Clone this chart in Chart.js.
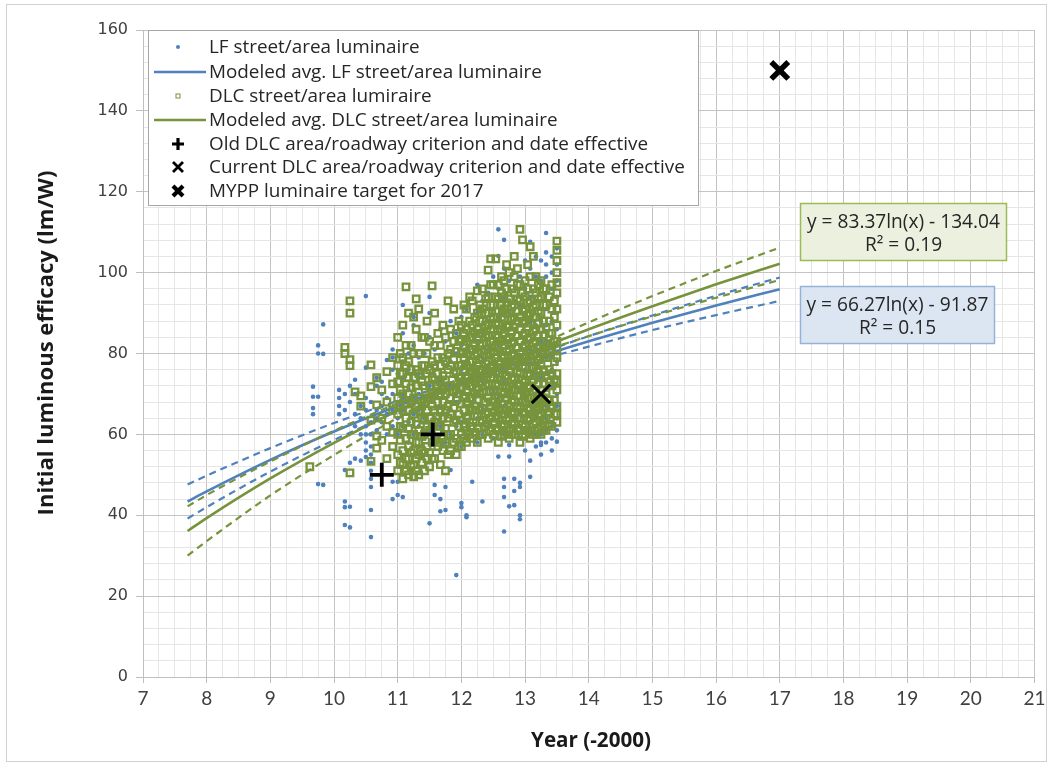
<!DOCTYPE html>
<html>
<head>
<meta charset="utf-8">
<script src="https://cdn.jsdelivr.net/npm/chart.js@4.4.1/dist/chart.umd.min.js"></script>
<style>
  html, body { margin: 0; padding: 0; background: #fff; }
  #wrap { position: relative; width: 1052px; height: 767px; }
</style>
</head>
<body>
<div id="wrap"><canvas id="chart" width="1052" height="767"></canvas></div>
<script>
// --- Data ---

// modeled averages (trend lines) and their dashed bounds
const fitYears = [7.7, 8, 9, 10, 11, 12, 13, 14, 15, 16, 17];
const lfModel  = [43.4, 45.9, 53.7, 60.7, 67.0, 72.8, 78.1, 83.0, 87.6, 91.9, 95.9];
const lfUpper  = [47.6, 49.8, 56.6, 62.8, 68.3, 73.4, 78.8, 84.3, 89.4, 94.3, 98.8];
const lfLower  = [39.2, 42.0, 50.8, 58.6, 65.7, 72.2, 77.4, 81.7, 85.8, 89.5, 93.0];
const dlcModel = [36.1, 39.3, 49.1, 57.9, 65.9, 73.1, 79.8, 86.0, 91.7, 97.1, 102.2];
const dlcUpper = [42.2, 45.0, 53.3, 60.9, 67.7, 73.9, 80.6, 87.7, 94.2, 100.4, 106.2];
const dlcLower = [30.0, 33.6, 44.9, 54.9, 64.1, 72.3, 79.0, 84.3, 89.2, 93.8, 98.2];

// LF street/area luminaires: month positions and efficacy values in each month
const lfMonths = [9.67, 9.75, 9.83, 10.08, 10.17, 10.25, 10.33, 10.42, 10.50, 10.58, 10.67, 10.75, 10.83, 10.92,
  11.00, 11.08, 11.17, 11.25, 11.33, 11.42, 11.50, 11.58, 11.67, 11.75, 11.83, 11.92,
  12.00, 12.08, 12.17, 12.25, 12.33, 12.42, 12.50, 12.58, 12.67, 12.75, 12.83, 12.92,
  13.00, 13.08, 13.17, 13.25, 13.33, 13.42, 13.50];
const lfValues = [
  [71.8, 69.3, 66.5, 65], [82, 80, 69.3, 47.7], [87.2, 79.9, 47.5], [65, 67, 69, 71],
  [51.2, 43.4, 37.6, 66, 70, 42], [37, 42.1, 53, 68, 72], [70, 73.5, 54, 62, 65], [53.5, 60, 64, 67],
  [69, 76.5, 94.2, 56, 58, 60, 54.4, 62, 66], [47, 49, 51, 53, 55, 57, 60, 41.3, 34.6, 63, 68],
  [72, 74, 61, 64, 66], [63, 67, 70, 73], [78.4, 60, 65, 69], [76, 79, 81, 48.3, 44, 62, 66, 70],
  [48.3, 45, 60, 64, 68, 72, 75], [92, 85, 44.5, 62, 66, 70, 74, 78], [58, 63, 67, 71, 76, 80],
  [87, 89, 60, 65, 69, 73, 82], [57, 62, 66, 70, 75, 79], [59, 64, 68, 74, 80],
  [90, 94, 38, 61, 68, 72, 77, 84], [45, 47.5, 59, 64, 70, 76, 81], [41, 44, 62, 67, 73, 79, 86],
  [41.3, 47, 58, 65, 71, 77, 83], [51.2, 60, 66, 72, 78, 88], [25.2, 62, 68, 74, 80, 85],
  [42, 43, 57, 63, 70, 76, 82, 89], [39.5, 40, 59, 65, 72, 78, 84, 91], [48.3, 61, 67, 73, 80, 86],
  [58, 64, 70, 76, 83, 90, 97], [43.4, 60, 66, 73, 79, 85, 93], [62, 68, 75, 81, 88, 95],
  [59, 65, 71, 78, 84, 91, 99], [104.1, 110.7, 54.5, 63, 69, 76, 82, 89, 96],
  [108.1, 44.5, 47, 49, 36, 60, 67, 73, 80, 87, 94, 101], [54.5, 57.4, 42.2, 62, 68, 75, 83, 90, 98],
  [46, 49, 42.5, 61, 66, 72, 79, 86, 93, 100], [47, 48, 39, 40, 59, 65, 71, 78, 85, 92, 99],
  [56, 63, 70, 76, 83, 89, 96, 103], [49.5, 53.5, 107.6, 61, 68, 74, 81, 88, 94, 101],
  [57, 60, 64, 69, 75, 81, 87, 93, 99, 104], [55, 57.4, 58, 60, 63, 66, 70, 74, 78, 83, 88, 93, 98, 103],
  [109.8, 58, 61, 64, 67, 71, 75, 79, 83, 87, 91, 95, 99, 102, 105],
  [56, 59, 62, 65, 68, 72, 76, 80, 84, 88, 92, 96, 100, 104],
  [58.2, 61, 64, 67, 70, 74, 78, 82, 86, 90, 94, 98, 102, 106]
];

// DLC street/area luminaires (half-month positions in the dense part)
const dlcMonths = [9.62, 10.17, 10.25, 10.33, 10.42, 10.58, 10.67, 10.75, 10.83, 10.92,
  11.00, 11.04, 11.08, 11.13, 11.17, 11.21, 11.25, 11.29, 11.33, 11.38, 11.42, 11.46,
  11.50, 11.54, 11.58, 11.63, 11.67, 11.71, 11.75, 11.79, 11.83, 11.88, 11.92, 11.96,
  12.00, 12.04, 12.08, 12.13, 12.17, 12.21, 12.25, 12.29, 12.33, 12.38, 12.42, 12.46,
  12.50, 12.54, 12.58, 12.63, 12.67, 12.71, 12.75, 12.79, 12.83, 12.88, 12.92, 12.96,
  13.00, 13.04, 13.08, 13.13, 13.17, 13.21, 13.25, 13.29, 13.33, 13.38, 13.42, 13.46, 13.50];
const dlcValues = [
  [52], [80, 81.5], [90, 93, 77, 78.5, 50.5], [70.5], [67, 69.5], [71.8, 53.3, 77.2, 63.5],
  [67.3, 59.6, 56.6, 74], [64, 71, 58.5], [62, 75.5, 68, 54], [57, 66, 72.5, 79, 60.5],
  [51, 55, 60, 65, 69, 73, 77, 84], [53, 58.5, 62, 67, 71, 75, 80],
  [49, 52.5, 56, 61.5, 66, 70, 75, 79, 87], [51, 54, 59, 64, 67.5, 72.5, 77, 82, 96.5],
  [50, 54, 57, 61.5, 66, 70, 74, 78, 90], [52, 55.5, 60, 63, 68, 71.5, 76, 82],
  [49.5, 52.5, 56, 60, 65, 69, 74, 80, 89], [51, 54, 58, 62.5, 67, 72, 76, 86, 93.5],
  [50, 55, 58, 61, 66, 70.5, 75, 80, 91], [53, 56, 59.5, 64, 67, 73, 77, 84],
  [51, 55.5, 60, 63.5, 68, 72, 77, 84], [54, 57, 62, 66, 69, 75, 80, 88],
  [52, 55.5, 61, 64, 69, 72, 76, 83], [54, 58, 62.5, 67, 70, 74, 78, 96.7],
  [54, 59, 63, 66, 69.5, 73.5, 77, 82, 90], [57, 60.5, 64.5, 68, 72, 75, 79, 85],
  [52.5, 58, 62, 65.5, 70, 73, 77, 82], [56, 59, 64, 68, 71, 74.5, 79, 87],
  [51, 58, 61.5, 66, 70, 73.5, 78, 84], [55, 60, 64, 67, 72, 76, 80, 93],
  [56, 60, 65, 69, 72, 77, 81, 86], [58, 63, 66.5, 70.5, 75, 78.5, 83, 91],
  [55, 59, 63.5, 68.5, 71, 75.5, 80.5, 85], [57, 62, 65, 70, 74, 77, 83, 88],
  [57, 60, 63.5, 67.5, 71.5, 74, 77, 80, 83.5, 87], [59, 62, 66, 69, 73, 76, 79, 82, 85, 92],
  [58, 61, 64, 68, 71, 74, 77, 80, 83, 86, 91], [60, 63, 66.5, 69, 72, 75.5, 78, 81, 84, 88, 94],
  [59, 62, 66, 69, 72, 75, 78, 81, 84, 87, 93], [60.5, 64.5, 67, 70, 73, 76, 79.5, 82, 85, 89],
  [58, 61.5, 64.5, 68.5, 71, 74, 77, 80, 83.5, 86, 90, 95.5], [60, 63, 66, 70, 73, 76, 78.5, 82, 85, 88, 92],
  [60, 63.5, 66.5, 70.5, 73, 76, 79, 82.5, 85, 88, 91, 96], [62, 65, 68, 72, 75, 77.5, 81, 84, 87, 90, 93.5],
  [59, 62.5, 65.5, 69, 72.5, 75, 78, 81, 84.5, 87, 90, 94, 100.6],
  [61, 64, 67, 70.5, 74, 76.5, 80, 83, 86, 88.5, 92, 97, 103.4],
  [60, 63, 65.5, 68, 71, 74, 77, 80.5, 83, 86, 89, 92, 97],
  [61.5, 64.5, 67, 69.5, 72.5, 75.5, 79, 82, 84.5, 87.5, 90.5, 94, 103.4],
  [58, 61, 64, 66, 69, 72, 75, 78, 81.5, 84, 87, 90.5, 93.5, 97],
  [59.5, 62.5, 65, 67.5, 70.5, 73.5, 76.5, 79.5, 83, 86, 89, 92, 95, 99],
  [60, 62, 65, 67.5, 70, 73, 76, 79, 82, 85, 88.5, 91, 94, 98],
  [61, 63.5, 66, 69, 71.5, 74.5, 77.5, 80.5, 83.5, 86.5, 90, 92.5, 96, 102],
  [59, 61, 64, 67, 70, 72, 75.5, 78, 81, 84, 87, 90, 93.5, 100],
  [60, 62.5, 65.5, 68.5, 71, 73.5, 77, 79.5, 82.5, 85.5, 88.5, 91.5, 96],
  [60, 63, 65, 68, 71, 74, 77, 80, 83, 86.5, 89, 92, 95, 99, 104],
  [61.5, 64, 66.5, 69.5, 72.5, 75.5, 78.5, 81.5, 84.5, 88, 90.5, 93.5, 97, 101],
  [58, 61, 64, 67, 69.5, 72, 75, 78, 80, 83, 86, 89, 93, 97, 110.7],
  [59.5, 62.5, 65.5, 68, 71, 73.5, 76.5, 79, 81.5, 84.5, 87.5, 90.5, 95, 108.1],
  [60, 62, 65, 68, 70, 73, 76.5, 79, 82, 85, 88, 91, 94, 98],
  [61, 63.5, 66.5, 69, 71.5, 74.5, 78, 80.5, 83.5, 86.5, 89.5, 92.5, 96, 102],
  [59, 61, 64, 66, 69, 72, 75, 78, 81, 84, 87.5, 90, 93, 99, 106.4],
  [60, 62.5, 65, 67.5, 70.5, 73.5, 76.5, 79.5, 82.5, 85.5, 89, 91.5, 96, 104],
  [60, 63, 66, 68, 71, 74.5, 77, 80, 83, 86, 89, 92, 95, 99],
  [61.5, 64.5, 67, 69.5, 72.5, 76, 78.5, 81.5, 84.5, 87.5, 90.5, 93.5, 97],
  [60, 62, 65, 68, 71, 74, 77.5, 80, 83, 86, 90, 94, 98],
  [61, 63.5, 66.5, 69, 72.5, 75.5, 79, 81.5, 84.5, 88, 92, 96],
  [61, 64, 67, 70, 74.5, 79, 82, 86.5, 92, 96], [62.5, 65.5, 68.5, 73, 76, 80.5, 85, 88, 94],
  [62, 66.5, 72, 75, 81, 85, 91, 97], [65, 68.5, 73.5, 78, 83, 89, 93],
  [63, 65, 67, 71, 73, 75, 79, 81, 83, 87, 91, 95, 97.5, 100, 103, 105.5, 107.8]
];

// criteria and target markers
const oldCritYears = [10.75, 11.55];
const oldCritValues = [50, 60];
const currentCritYears = [13.25];
const currentCritValues = [70];
const targetYears = [17];
const targetValues = [150];

const legendLabels = [
  'LF street/area luminaire',
  'Modeled avg. LF street/area luminaire',
  'DLC street/area lumiraire',
  'Modeled avg. DLC street/area luminaire',
  'Old DLC area/roadway criterion and date effective',
  'Current DLC area/roadway criterion and date effective',
  'MYPP luminaire target for 2017'
];
const dlcEquation = ['y = 83.37ln(x) - 134.04', 'R\u00B2 = 0.19'];
const lfEquation = ['y = 66.27ln(x) - 91.87', 'R\u00B2 = 0.15'];

const BLUE = '#4f81bd';
const GREEN = '#77933c';

const toPoints = (xs, ys) => xs.map((x, i) => ({ x, y: ys[i] }));
const toCloud = (months, values) => months.flatMap((x, i) => values[i].map(y => ({ x, y })));

// trend lines sit under the scatter clouds, like in the original
const lineSet = (data, color, dashed) => ({
  data, showLine: true, borderColor: color, backgroundColor: color,
  borderWidth: dashed ? 2.2 : 2.6, borderDash: dashed ? [7, 5] : [], pointRadius: 0,
  cubicInterpolationMode: 'monotone', order: 5
});

const isWhole = v => Math.abs(v - Math.round(v)) < 1e-6;

const fitFont = (ctx, text, weight, family, width) => {
  ctx.font = weight + ' 100px ' + family;
  return 100 * width / ctx.measureText(text).width;
};

// --- Legend, equation boxes, axis titles and frame ---
const overlay = {
  id: 'overlay',
  afterDraw(chart) {
    const ctx = chart.ctx;
    ctx.save();

    // outer frame
    ctx.strokeStyle = '#d0d0d0';
    ctx.lineWidth = 1;
    ctx.strokeRect(6.5, 4.5, 1040, 757);

    // axis titles
    ctx.fillStyle = '#1a1a1a';
    ctx.textAlign = 'center';
    ctx.textBaseline = 'middle';
    let fs = fitFont(ctx, 'Year (-2000)', 'bold', 'Open Sans', 120);
    ctx.font = 'bold ' + fs + 'px "Open Sans"';
    ctx.fillText('Year (-2000)', 591, 741);
    ctx.save();
    ctx.translate(47, 343);
    ctx.rotate(-Math.PI / 2);
    fs = fitFont(ctx, 'Initial luminous efficacy (lm/W)', 'bold', 'Open Sans', 345);
    ctx.font = 'bold ' + fs + 'px "Open Sans"';
    ctx.fillText('Initial luminous efficacy (lm/W)', 0, 0);
    ctx.restore();

    // legend box
    ctx.fillStyle = '#fff';
    ctx.fillRect(148.5, 30.5, 550, 175);
    ctx.strokeStyle = '#a6a6a6';
    ctx.strokeRect(148.5, 30.5, 550, 175);
    const rows = [47, 72, 96, 120, 144, 167, 191];
    const mx = 178;
    // markers
    ctx.fillStyle = BLUE;
    ctx.beginPath(); ctx.arc(mx, rows[0], 2, 0, Math.PI * 2); ctx.fill();
    ctx.lineWidth = 2.6;
    ctx.strokeStyle = BLUE;
    ctx.beginPath(); ctx.moveTo(154, rows[1]); ctx.lineTo(206, rows[1]); ctx.stroke();
    ctx.strokeStyle = GREEN;
    ctx.lineWidth = 1;
    ctx.strokeRect(mx - 2, rows[2] - 2, 4, 4);
    ctx.lineWidth = 2.6;
    ctx.beginPath(); ctx.moveTo(154, rows[3]); ctx.lineTo(206, rows[3]); ctx.stroke();
    ctx.strokeStyle = '#000';
    ctx.lineWidth = 3.2;
    ctx.beginPath();
    ctx.moveTo(mx - 6, rows[4]); ctx.lineTo(mx + 6, rows[4]);
    ctx.moveTo(mx, rows[4] - 6); ctx.lineTo(mx, rows[4] + 6);
    ctx.stroke();
    ctx.lineWidth = 2.8;
    ctx.beginPath();
    ctx.moveTo(mx - 5, rows[5] - 5); ctx.lineTo(mx + 5, rows[5] + 5);
    ctx.moveTo(mx + 5, rows[5] - 5); ctx.lineTo(mx - 5, rows[5] + 5);
    ctx.stroke();
    ctx.lineWidth = 4.2;
    ctx.beginPath();
    ctx.moveTo(mx - 5, rows[6] - 5); ctx.lineTo(mx + 5, rows[6] + 5);
    ctx.moveTo(mx + 5, rows[6] - 5); ctx.lineTo(mx - 5, rows[6] + 5);
    ctx.stroke();
    // labels
    fs = fitFont(ctx, legendLabels[5], 'normal', 'Open Sans', 476);
    ctx.font = fs + 'px "Open Sans"';
    ctx.fillStyle = '#262626';
    ctx.textAlign = 'left';
    legendLabels.forEach((t, i) => ctx.fillText(t, 209, rows[i] + 1));

    // equation boxes
    const box = (x, y, w, h, fill, stroke, lines) => {
      ctx.fillStyle = fill;
      ctx.fillRect(x, y, w, h);
      ctx.strokeStyle = stroke;
      ctx.lineWidth = 1.5;
      ctx.strokeRect(x, y, w, h);
      ctx.fillStyle = '#262626';
      ctx.textAlign = 'center';
      ctx.fillText(lines[0], x + w / 2, y + 19);
      ctx.fillText(lines[1], x + w / 2, y + 42);
    };
    fs = fitFont(ctx, dlcEquation[0], 'normal', 'Open Sans', 193);
    ctx.font = fs + 'px "Open Sans"';
    box(800.5, 203.5, 206, 57, '#ebf1de', '#9bbb59', dlcEquation);
    box(800.5, 286.5, 194, 57, '#dce6f2', '#95b3d7', lfEquation);

    ctx.restore();
  }
};

new Chart(document.getElementById('chart'), {
  type: 'scatter',
  data: {
    datasets: [
      { data: toPoints(targetYears, targetValues), pointStyle: 'crossRot', pointRadius: 12,
        borderWidth: 5.5, borderColor: '#000', order: 0 },
      { data: toPoints(currentCritYears, currentCritValues), pointStyle: 'crossRot', pointRadius: 13,
        borderWidth: 3, borderColor: '#000', order: 0 },
      { data: toPoints(oldCritYears, oldCritValues), pointStyle: 'cross', pointRadius: 12,
        borderWidth: 3.8, borderColor: '#000', order: 0 },
      lineSet(toPoints(fitYears, dlcModel), GREEN, false),
      lineSet(toPoints(fitYears, dlcUpper), GREEN, true),
      lineSet(toPoints(fitYears, dlcLower), GREEN, true),
      lineSet(toPoints(fitYears, lfModel), BLUE, false),
      lineSet(toPoints(fitYears, lfUpper), BLUE, true),
      lineSet(toPoints(fitYears, lfLower), BLUE, true),
      { data: toCloud(dlcMonths, dlcValues), pointStyle: 'rect', pointRadius: 4.6,
        borderWidth: 2.3, borderColor: GREEN, backgroundColor: 'rgba(255,255,255,0)', order: 2 },
      { data: toCloud(lfMonths, lfValues), pointStyle: 'circle', pointRadius: 2.3,
        borderWidth: 0, backgroundColor: BLUE, order: 3 }
    ]
  },
  options: {
    responsive: false,
    animation: false,
    events: [],
    layout: { padding: { top: 30, right: 16, left: 0, bottom: 0 } },
    plugins: { legend: { display: false }, tooltip: { enabled: false } },
    scales: {
      x: {
        type: 'linear', min: 7, max: 21,
        afterFit: s => { s.height = 90; },
        ticks: {
          stepSize: 0.25, autoSkip: false, maxRotation: 0, padding: 4,
          color: '#404040', font: { family: 'Lato', size: 19 },
          callback: v => isWhole(v) ? String(Math.round(v)) : ''
        },
        grid: {
          color: c => (c.tick && isWhole(c.tick.value)) ? '#c4c4c4' : '#e6e6e6',
          tickColor: c => (c.tick && isWhole(c.tick.value)) ? '#bfbfbf' : 'rgba(0,0,0,0)',
          tickLength: 6
        },
        border: { color: '#bfbfbf' }
      },
      y: {
        type: 'linear', min: 0, max: 160,
        afterFit: s => { s.width = 143; },
        ticks: {
          stepSize: 4, autoSkip: false, padding: 8,
          color: '#404040', font: { family: 'DejaVu Sans', size: 16 },
          callback: v => (Math.round(v) % 20 === 0) ? String(Math.round(v)) : ''
        },
        grid: {
          color: c => (c.tick && Math.round(c.tick.value) % 20 === 0) ? '#c4c4c4' : '#e6e6e6',
          tickColor: c => (c.tick && Math.round(c.tick.value) % 20 === 0) ? '#bfbfbf' : 'rgba(0,0,0,0)',
          tickLength: 7
        },
        border: { color: '#bfbfbf' }
      }
    }
  },
  plugins: [overlay]
});
</script>
</body>
</html>
